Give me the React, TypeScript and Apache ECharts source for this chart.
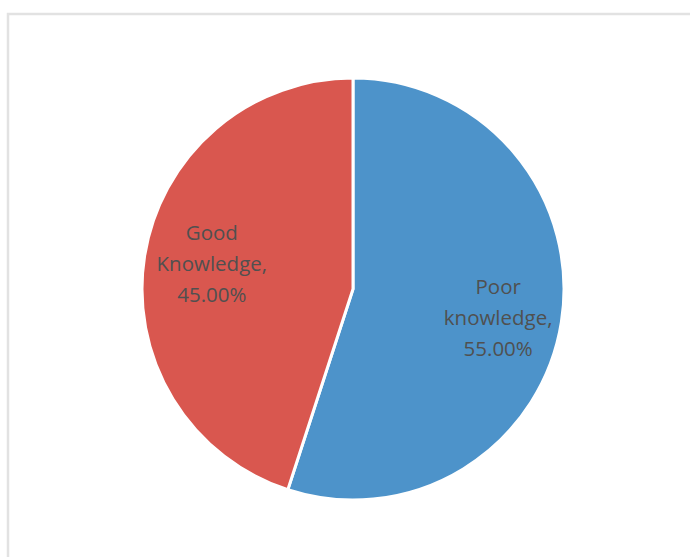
import React, { useEffect, useRef } from "react";
import * as echarts from "echarts";

const categories = ["Poor knowledge", "Good Knowledge"];
const labelNames = ["Poor\nknowledge,", "Good\nKnowledge,"];
const values = [55, 45];
const colors = ["#4d93ca", "#d9574f"];

export default function App() {
  const ref = useRef<HTMLDivElement>(null);
  useEffect(() => {
    if (!ref.current) return;
    const chart = echarts.init(ref.current, null, { renderer: "svg" });
    const data = categories.map((c, i) => ({
      name: c,
      value: values[i],
      itemStyle: { color: colors[i] },
    }));
    const labelData = categories.map((c, i) => ({
      name: c,
      value: values[i],
      label: {
        formatter: labelNames[i] + "\n" + values[i].toFixed(2) + "%",
        offset: i === 0 ? [-1, 5] : [5, -3],
      },
    }));
    chart.setOption({
      animation: false,
      backgroundColor: "#ffffff",
      graphic: [
        {
          type: "rect",
          shape: { x: 8, y: 14, width: 720, height: 600 },
          style: { fill: "none", stroke: "#e2e2e2", lineWidth: 2.5 },
          silent: true,
        },
      ],
      series: [
        {
          type: "pie",
          center: [353, 289],
          radius: [0, 211],
          startAngle: 90,
          clockwise: true,
          data,
          label: { show: false },
          labelLine: { show: false },
          itemStyle: { borderColor: "#ffffff", borderWidth: 3 },
          emphasis: { disabled: true },
        },
        {
          type: "pie",
          center: [353, 289],
          radius: [0, 290],
          startAngle: 90,
          clockwise: true,
          silent: true,
          z: 5,
          data: labelData,
          itemStyle: { color: "rgba(0,0,0,0)", borderWidth: 0 },
          label: {
            show: true,
            position: "inside",
            color: "#505050",
            fontFamily: "Open Sans",
            fontSize: 20.5,
            lineHeight: 31,
            align: "center",
          },
          labelLine: { show: false },
          emphasis: { disabled: true },
        },
      ],
    });
    return () => chart.dispose();
  }, []);
  return (
    <div
      ref={ref}
      style={{ position: "fixed", left: 0, top: 0, width: 690, height: 557 }}
    />
  );
}
